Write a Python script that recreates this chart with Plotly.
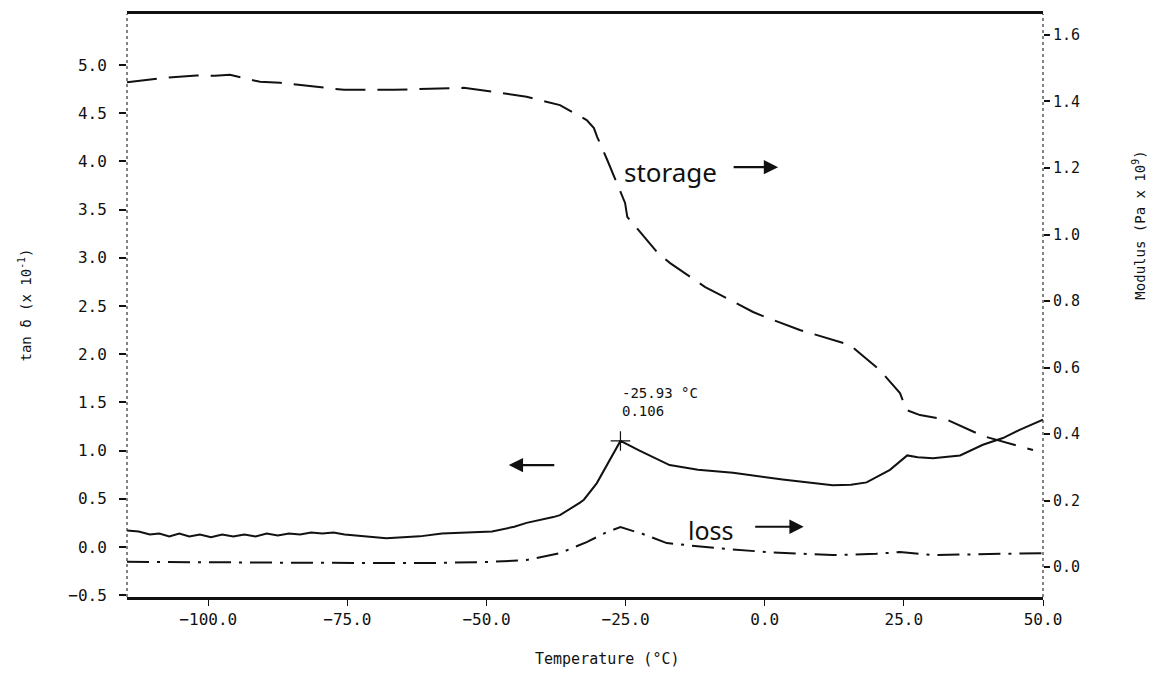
import plotly.graph_objects as go

# ---- data ----
storage_T = [-114.6, -108.0, -102.1, -98.8, -96.1, -90.7, -87.1, -81.0, -75.6, -66.6,
             -57.7, -54.1, -48.7, -42.8, -36.8, -32.0, -30.7, -30.1, -28.3, -25.1,
             -24.7, -19.2, -17.0, -10.7, -8.6, -2.1, 0.05, 6.3, 15.3, 20.7,
             24.3, 25.5, 27.9, 32.9, 39.2, 41.9, 48.2]
storage_G = [1.458, 1.471, 1.478, 1.477, 1.480, 1.459, 1.456, 1.444, 1.435, 1.435,
             1.438, 1.441, 1.429, 1.414, 1.389, 1.344, 1.320, 1.293, 1.224, 1.095,
             1.053, 0.944, 0.914, 0.842, 0.824, 0.767, 0.752, 0.713, 0.668, 0.592,
             0.523, 0.472, 0.457, 0.442, 0.394, 0.382, 0.352]

tan_T = [-114.6, -112.5, -110.5, -108.8, -107.0, -105.2, -103.4, -101.5, -99.5, -97.5,
         -95.5, -93.5, -91.5, -89.5, -87.5, -85.5, -83.5, -81.5, -79.5, -77.5,
         -75.5, -73.5, -71.0, -68.0, -65.0, -62.0, -58.0, -54.0, -49.0, -45.0,
         -42.8, -38.0, -36.8, -33.2, -32.5, -30.2, -27.8, -25.93, -22.5, -17.1,
         -12.0, -5.7, 3.2, 12.2, 15.5, 18.3, 22.5, 25.6, 27.5, 30.2,
         35.1, 39.2, 42.8, 46.0, 50.0]
tan_d = [0.17, 0.16, 0.13, 0.14, 0.11, 0.14, 0.11, 0.13, 0.10, 0.13,
         0.11, 0.13, 0.11, 0.14, 0.12, 0.14, 0.13, 0.15, 0.14, 0.15,
         0.13, 0.12, 0.10, 0.09, 0.10, 0.11, 0.14, 0.15, 0.16, 0.21,
         0.25, 0.31, 0.33, 0.46, 0.49, 0.66, 0.90, 1.10, 1.00, 0.85,
         0.80, 0.77, 0.70, 0.64, 0.645, 0.67, 0.80, 0.95, 0.93, 0.92,
         0.95, 1.06, 1.13, 1.22, 1.32]

loss_T = [-114.6, -100.0, -84.6, -60.7, -50.0, -42.8, -36.8, -32.0, -30.2, -28.4,
          -25.93, -22.0, -17.6, -8.6, 0.4, 12.2, 20.0, 24.3, 30.2, 40.0, 50.0]
loss_G = [0.016, 0.014, 0.013, 0.012, 0.015, 0.021, 0.042, 0.075, 0.09, 0.105,
          0.12, 0.10, 0.072, 0.057, 0.045, 0.036, 0.040, 0.045, 0.036, 0.038, 0.042]

peak_T = [-25.93]
peak_tan = [1.10]

x_ticks = [-100, -75, -50, -25, 0, 25, 50]
left_ticks = [-0.5, 0.0, 0.5, 1.0, 1.5, 2.0, 2.5, 3.0, 3.5, 4.0, 4.5, 5.0]
right_ticks = [0.0, 0.2, 0.4, 0.6, 0.8, 1.0, 1.2, 1.4, 1.6]

MONO = "DejaVu Sans Mono"
HAND = "Liberation Sans Narrow, Noto Sans, sans-serif"
INK = "#111111"

fig = go.Figure()
fig.add_trace(go.Scatter(x=storage_T, y=storage_G, yaxis="y2", mode="lines",
                         line=dict(color=INK, width=2, dash="30px,12px"),
                         showlegend=False, hoverinfo="skip"))
fig.add_trace(go.Scatter(x=loss_T, y=loss_G, yaxis="y2", mode="lines",
                         line=dict(color=INK, width=2, dash="22px,8px,3px,8px"),
                         showlegend=False, hoverinfo="skip"))
fig.add_trace(go.Scatter(x=tan_T, y=tan_d, yaxis="y", mode="lines",
                         line=dict(color=INK, width=2),
                         showlegend=False, hoverinfo="skip"))
fig.add_trace(go.Scatter(x=peak_T, y=peak_tan, yaxis="y", mode="markers",
                         marker=dict(symbol="cross-thin", size=14,
                                     line=dict(color=INK, width=1.2)),
                         showlegend=False, hoverinfo="skip"))

fig.update_layout(
    width=1156, height=675,
    margin=dict(l=127, r=113, t=14, b=78),
    paper_bgcolor="white", plot_bgcolor="white",
    font=dict(family=MONO, size=14, color=INK),
    xaxis=dict(range=[-114.6, 50], tickvals=x_ticks, tickformat=".1f",
               showgrid=False, zeroline=False,
               showline=True, linewidth=2.5, linecolor=INK, mirror=True,
               ticks="outside", ticklen=6, tickwidth=1.2, tickcolor=INK,
               tickfont=dict(family=MONO, size=16)),
    yaxis=dict(range=[-0.519, 5.529], tickvals=left_ticks, tickformat=".1f",
               showgrid=False, zeroline=False, showline=False,
               ticks="outside", ticklen=7, tickwidth=1.5, tickcolor=INK,
               ticklabelstandoff=9,
               tickfont=dict(family=MONO, size=16)),
    yaxis2=dict(range=[-0.09, 1.663], tickvals=right_ticks, tickformat=".1f",
                overlaying="y", side="right",
                showgrid=False, zeroline=False, showline=False,
                ticks="outside", ticklen=6, tickwidth=1.5, tickcolor=INK,
                tickfont=dict(family=MONO, size=15)),
)

# dotted left / right frame lines
fig.add_shape(type="line", xref="paper", yref="paper", x0=0, x1=0, y0=0, y1=1,
              line=dict(color="#333333", width=1.2, dash="dot"))
fig.add_shape(type="line", xref="paper", yref="paper", x0=1, x1=1, y0=0, y1=1,
              line=dict(color="#333333", width=1.2, dash="dot"))

# axis titles
fig.add_annotation(text="Temperature (°C)", xref="paper", yref="paper",
                   x=0.525, y=0, yshift=-73, showarrow=False,
                   font=dict(family=MONO, size=15, color=INK))
fig.add_annotation(text="tan δ (x 10<sup>-1</sup>)", xref="paper", yref="paper",
                   x=0, xshift=-102, y=0.50, textangle=-90, showarrow=False,
                   xanchor="center", font=dict(family=MONO, size=14, color=INK))
fig.add_annotation(text="Modulus (Pa x 10<sup>9</sup>)", xref="paper", yref="paper",
                   x=1, xshift=107, y=0.637, textangle=-90, showarrow=False,
                   font=dict(family=MONO, size=14, color=INK))

# peak label
fig.add_annotation(text="-25.93 °C<br>0.106", x=-25.93, y=1.31, xref="x", yref="y",
                   xanchor="left", yanchor="bottom", align="left", showarrow=False,
                   font=dict(family=MONO, size=14, color=INK))

# hand-written labels and arrows
fig.add_annotation(text="storage", x=-17.0, y=3.89, xref="x", yref="y",
                   showarrow=False, font=dict(family=HAND, size=26, color=INK))
fig.add_annotation(x=2.4, y=3.94, xref="x", yref="y", ax=-46, ay=0,
                   showarrow=True, arrowhead=2, arrowsize=1.3, arrowwidth=2.2,
                   arrowcolor=INK, text="")
fig.add_annotation(text="loss", x=-9.6, y=0.18, xref="x", yref="y",
                   showarrow=False, font=dict(family=HAND, size=25, color=INK))
fig.add_annotation(x=7.0, y=0.21, xref="x", yref="y", ax=-50, ay=0,
                   showarrow=True, arrowhead=2, arrowsize=1.3, arrowwidth=2.2,
                   arrowcolor=INK, text="")
fig.add_annotation(x=-46.0, y=0.85, xref="x", yref="y", ax=47, ay=0,
                   showarrow=True, arrowhead=2, arrowsize=1.3, arrowwidth=2.2,
                   arrowcolor=INK, text="")

fig.write_html("out.html")
